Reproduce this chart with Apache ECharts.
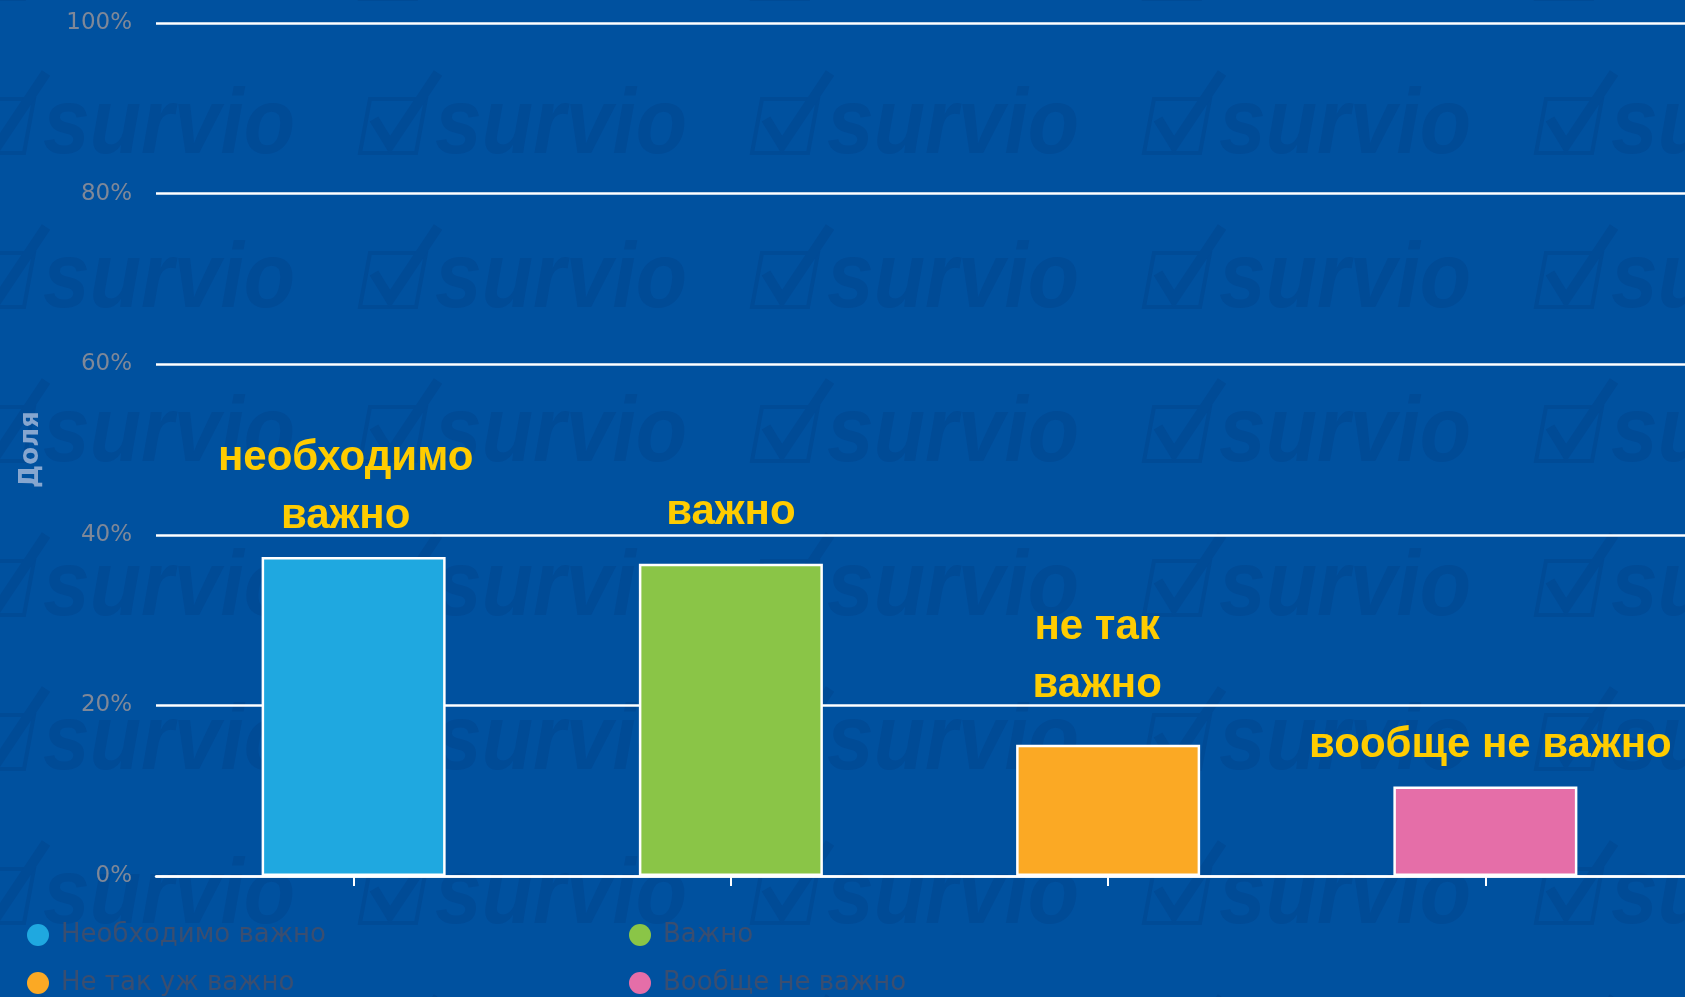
<!DOCTYPE html>
<html>
<head>
<meta charset="utf-8">
<script src="https://cdn.jsdelivr.net/npm/echarts@6/dist/echarts.min.js"></script>
<style>
html,body{margin:0;padding:0;width:1685px;height:997px;overflow:hidden;background:#00519f;}
#chart{width:1685px;height:997px;}
</style>
</head>
<body>
<div id="chart"></div>
<script>
// ---- data ----
const categories = ['Необходимо важно', 'Важно', 'Не так уж важно', 'Вообще не важно'];
const values = [37.4, 36.6, 15.4, 10.5];
const labelTexts = ['необходимо\nважно', 'важно', 'не так\nважно', 'вообще не важно'];
const yMin = 0, yMax = 100, yStep = 20;
const axisTitle = 'Доля';

// ---- styles ----
const BG = '#00519f';
const colors = ['#1fa8e0', '#8ac547', '#fba924', '#e56ea8'];
const labelGaps = [12, 22, 30, 12];
const labelShift = [-8, 0, -11, 5];

// watermark tile as page background
(function () {
  const w = 392, h = 154;
  const c = document.createElement('canvas');
  c.width = w; c.height = h;
  const ctx = c.getContext('2d');
  ctx.fillStyle = BG; ctx.fillRect(0, 0, w, h);
  const col = '#004b96';
  function motif(x, b) {
    ctx.save();
    ctx.strokeStyle = col; ctx.fillStyle = col;
    ctx.lineWidth = 4;
    ctx.beginPath();
    ctx.moveTo(x, b); ctx.lineTo(x + 56, b); ctx.lineTo(x + 66, b - 54); ctx.lineTo(x + 10, b - 54); ctx.closePath();
    ctx.stroke();
    ctx.lineWidth = 10; ctx.lineJoin = 'miter';
    ctx.beginPath();
    ctx.moveTo(x + 14, b - 34); ctx.lineTo(x + 30, b - 8); ctx.lineTo(x + 78, b - 80);
    ctx.stroke();
    ctx.translate(x + 75, b);
    ctx.scale(1, 1.1);
    ctx.font = 'italic bold 84px "Liberation Sans", Arial, sans-serif';
    ctx.fillText('survio', 0, 0);
    ctx.restore();
  }
  for (const dx of [-w, 0]) for (const dy of [-h, 0, h]) motif(360 + dx, 153 + dy);
  document.body.style.background = BG + ' url(' + c.toDataURL() + ') repeat 0 0';
})();

const chart = echarts.init(document.getElementById('chart'), null, { renderer: 'canvas' });

const series = categories.map((name, i) => ({
  type: 'bar',
  name: name,
  xAxisIndex: 0,
  yAxisIndex: 0,
  barWidth: 184,
  barGap: '-100%',
  data: categories.map((c, j) => (j === i ? values[i] : null)),
  itemStyle: { color: colors[i], borderColor: '#ffffff', borderWidth: 2.5 },
  label: {
    show: true,
    position: 'top',
    distance: labelGaps[i],
    offset: [labelShift[i], 0],
    formatter: labelTexts[i],
    color: '#ffcc00',
    fontFamily: '"Liberation Sans", Arial, sans-serif',
    fontWeight: 'bold',
    fontSize: 42,
    lineHeight: 58,
    align: 'center'
  },
  emphasis: { disabled: true }
}));

const legendText = {
  color: '#3a4e70',
  fontFamily: '"DejaVu Sans", sans-serif',
  fontSize: 26,
  padding: [0, 0, 0, 7]
};

chart.setOption({
  backgroundColor: 'transparent',
  animation: false,
  grid: [
    { left: 165, right: 11, top: 23, bottom: 121 },
    { left: 156, right: 0, top: 23, bottom: 121 }
  ],
  xAxis: [
    {
      type: 'category', gridIndex: 0, data: categories,
      axisLine: { show: false },
      axisTick: { show: true, alignWithLabel: true, length: 10, lineStyle: { color: '#ffffff', width: 2 } },
      axisLabel: { show: false },
      splitLine: { show: false }
    },
    {
      type: 'value', gridIndex: 1, min: 0, max: 1,
      axisLine: { show: true, lineStyle: { color: '#ffffff', width: 2.5 } },
      axisTick: { show: false }, axisLabel: { show: false }, splitLine: { show: false }
    }
  ],
  yAxis: [
    { type: 'value', gridIndex: 0, min: yMin, max: yMax, interval: yStep, show: false },
    {
      type: 'value', gridIndex: 1, min: yMin, max: yMax, interval: yStep,
      name: axisTitle, nameLocation: 'middle', nameGap: 112, nameRotate: 90,
      nameTextStyle: { color: '#86a6cf', fontFamily: '"DejaVu Sans", sans-serif', fontWeight: 'bold', fontSize: 26 },
      axisLine: { show: false }, axisTick: { show: false },
      axisLabel: { formatter: '{value}%', color: '#7f8898', fontFamily: '"DejaVu Sans", sans-serif', fontSize: 23, margin: 24 },
      splitLine: { show: true, lineStyle: { color: '#ffffff', width: 2.5 } }
    }
  ],
  legend: [
    {
      data: [categories[0], categories[2]], orient: 'vertical', left: 27, top: 922,
      itemWidth: 22, itemHeight: 22, itemGap: 22, icon: 'circle', padding: 0,
      itemStyle: { borderWidth: 0 },
      textStyle: legendText, selectedMode: false
    },
    {
      data: [categories[1], categories[3]], orient: 'vertical', left: 629, top: 922,
      itemWidth: 22, itemHeight: 22, itemGap: 22, icon: 'circle', padding: 0,
      itemStyle: { borderWidth: 0 },
      textStyle: legendText, selectedMode: false
    }
  ],
  series: series
});
</script>
</body>
</html>
